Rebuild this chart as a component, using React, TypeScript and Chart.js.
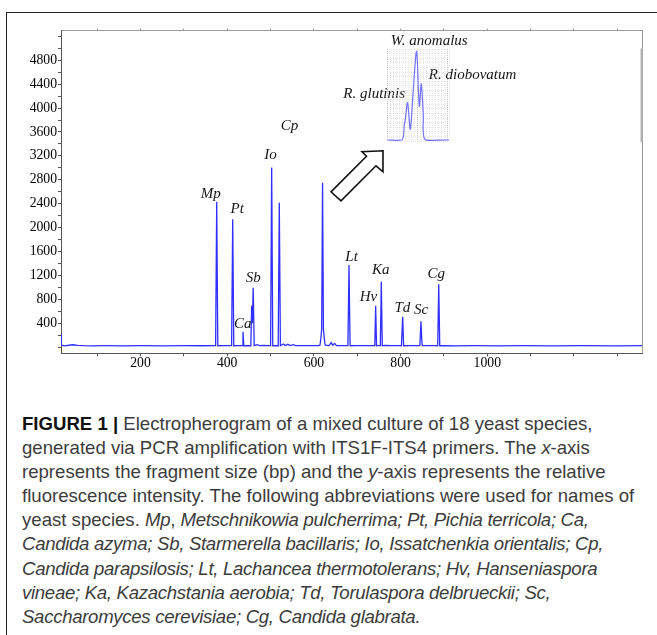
import React, { useEffect, useRef } from "react";
import { Chart, registerables } from "chart.js";

Chart.register(...registerables);

// ---- main electropherogram trace (fragment size in bp, relative fluorescence) ----
const traceBp = [
  17, 17.5, 25, 35, 45, 55, 70, 90, 120, 160, 200, 250, 300, 340, 370,
  373.3, 375.8, 378.3, 390, 405,
  410.2, 412.7, 415.2, 425,
  434.5, 436.4, 438.3, 448,
  454.5, 456.5, 458, 460, 462.3,
  470, 475, 485, 495,
  500.1, 502.6, 505.1, 512,
  517.7, 520.2, 522.7,
  530, 534, 540, 545, 552, 558, 570, 585, 600, 610,
  614, 616, 618, 620, 622, 624, 626,
  635, 640, 643, 648, 652, 665, 675,
  678.5, 681, 683.5, 695, 710, 730, 738,
  740.5, 742.5, 744.5, 748, 752,
  753.3, 755.5, 757.7, 765, 780, 795, 802,
  802.6, 804.8, 807, 820, 835, 844.5,
  847, 848.8, 850, 865, 880, 885.7,
  888, 890.3, 900, 930, 970, 1020, 1080, 1150, 1220, 1300, 1357,
];
const traceRfu = [
  220, 30, 18, 30, 38, 26, 22, 20, 22, 20, 23, 20, 22, 21, 22,
  22, 2432, 22, 24, 22,
  22, 2137, 22, 25,
  22, 256, 22, 24,
  22, 691, 400, 993, 22,
  40, 22, 26, 22,
  22, 3007, 22, 24,
  22, 2415, 22,
  50, 24, 45, 24, 40, 22, 24, 22, 25, 22,
  30, 140, 300, 2750, 300, 140, 30,
  25, 75, 30, 60, 24, 22, 22,
  22, 1372, 22, 24, 22, 24, 22,
  22, 691, 22, 25, 22,
  22, 1093, 22, 28, 22, 24, 22,
  22, 507, 22, 24, 22, 22,
  430, 130, 25, 22, 24, 22,
  1049, 22, 24, 20, 22, 20, 22, 20, 22, 20, 22,
];

// ---- axes ----
const xMin = 16.6;
const xMax = 1357.6;
const yMin = -105;
const yMax = 5295;
const xTickValues = [100, 200, 300, 400, 500, 600, 700, 800, 900, 1000, 1100, 1200, 1300];
const xTickLabels = [200, 400, 600, 800, 1000];
const yTickValues = [0, 200, 400, 600, 800, 1000, 1200, 1400, 1600, 1800, 2000, 2200, 2400, 2600, 2800, 3000, 3200, 3400, 3600, 3800, 4000, 4200, 4400, 4600, 4800, 5000, 5200];
const yTickLabels = [400, 800, 1200, 1600, 2000, 2400, 2800, 3200, 3600, 4000, 4400, 4800];

// ---- peak labels (placed in data coordinates) ----
const peakNames = ["Mp", "Pt", "Ca", "Sb", "Io", "Cp", "Lt", "Hv", "Ka", "Td", "Sc", "Cg"];
const peakNameBp = [362, 423, 436, 460, 500, 544, 687, 726, 754, 804, 847, 882];
const peakNameRfu = [2560, 2313, 386, 1162, 3218, 3704, 1500, 843, 1291, 654, 620, 1219];

// ---- inset labels ----
const insetNames = ["W. anomalus", "R. diobovatum", "R. glutinis"];
const insetNameBp = [866, 966, 739];
const insetNameRfu = [5117, 4559, 4241];

// ---- hollow arrow outline ----
const arrowBp = [639.4, 721.3, 711, 759.4, 759.4, 743.3, 662.5];
const arrowRfu = [2598, 3193, 3269, 3285, 2933, 3034, 2447];

// ---- inset (zoom of the ~620 bp peak) ----
const insetX = [0.3, 15, 17.3, 18.3, 20.6, 23.3, 26.3, 29.6, 32.3, 34.3, 36.3, 38.3, 62];
const insetY = [1.1, 1.1, 18, 23.5, 41.6, 12.7, 56, 97.4, 37.9, 62, 29, 1.3, 1.1];
const insetGridX = [0, 3, 6, 9, 12, 15, 18, 21, 24, 27, 30, 33, 36, 39, 42, 45, 48, 51, 54, 57, 60, 62];
const insetGridY = [0, 5, 10, 15, 20, 25, 30, 35, 40, 45, 50, 55, 60, 65, 70, 75, 80, 85, 90, 95, 100];
const insetMajorX = [0, 30, 60];

const serif = '"Liberation Serif", "Times New Roman", serif';

const annotate = {
  id: "annotate",
  afterDatasetsDraw(chart: any) {
    const { ctx, chartArea } = chart;
    const x = chart.scales.x;
    const y = chart.scales.y;
    ctx.save();
    // right frame line
    ctx.strokeStyle = "#9c9c9c";
    ctx.lineWidth = 1;
    ctx.beginPath();
    ctx.moveTo(Math.round(chartArea.right) + 0.5, chartArea.top);
    ctx.lineTo(Math.round(chartArea.right) + 0.5, chartArea.bottom);
    ctx.stroke();
    ctx.strokeStyle = "#b5b5b5";
    ctx.lineWidth = 2;
    ctx.beginPath();
    ctx.moveTo(Math.round(chartArea.right) - 0.5, y.getPixelForValue(5000));
    ctx.lineTo(Math.round(chartArea.right) - 0.5, y.getPixelForValue(3430));
    ctx.stroke();

    // arrow
    ctx.beginPath();
    arrowBp.forEach((b, i) => {
      const px = x.getPixelForValue(b);
      const py = y.getPixelForValue(arrowRfu[i]);
      if (i === 0) ctx.moveTo(px, py);
      else ctx.lineTo(px, py);
    });
    ctx.closePath();
    ctx.fillStyle = "#ffffff";
    ctx.fill();
    ctx.strokeStyle = "#111111";
    ctx.lineWidth = 1.6;
    ctx.lineJoin = "miter";
    ctx.stroke();

    // labels
    ctx.fillStyle = "#151515";
    ctx.font = `italic 15px ${serif}`;
    ctx.textAlign = "center";
    ctx.textBaseline = "middle";
    peakNames.forEach((n, i) => {
      ctx.fillText(n, x.getPixelForValue(peakNameBp[i]), y.getPixelForValue(peakNameRfu[i]));
    });
    insetNames.forEach((n, i) => {
      ctx.fillText(n, x.getPixelForValue(insetNameBp[i]), y.getPixelForValue(insetNameRfu[i]));
    });
    ctx.restore();
  },
};

const captionStyle: React.CSSProperties = {
  position: "absolute",
  left: 22,
  top: 412,
  fontFamily: '"Liberation Sans", Arial, sans-serif',
  fontWeight: 400,
  fontSize: 18.6,
  lineHeight: "24.1px",
  color: "#3c3c3c",
  whiteSpace: "nowrap",
  letterSpacing: "0px",
};
const it: React.CSSProperties = { fontStyle: "italic", letterSpacing: "-0.3px" };

export default function App() {
  const mainRef = useRef<HTMLCanvasElement | null>(null);
  const insetRef = useRef<HTMLCanvasElement | null>(null);

  useEffect(() => {
    if (!mainRef.current || !insetRef.current) return;
    const tickFont = { family: serif, size: 13.7, lineHeight: 1 };
    const main = new Chart(mainRef.current, {
      type: "line",
      data: {
        datasets: [
          {
            data: traceBp.map((b, i) => ({ x: b, y: traceRfu[i] })),
            borderColor: "#2f2fff",
            borderWidth: 1.3,
            pointRadius: 0,
            tension: 0,
          },
        ],
      },
      options: {
        responsive: false,
        animation: false,
        devicePixelRatio: 1,
        layout: { padding: { left: 0, right: 14.7, top: 0, bottom: 0 } },
        plugins: { legend: { display: false }, tooltip: { enabled: false } },
        scales: {
          x: {
            type: "linear",
            position: "bottom",
            min: xMin,
            max: xMax,
            afterBuildTicks: (s: any) => {
              s.ticks = xTickValues.map((v) => ({ value: v }));
            },
            afterFit: (s: any) => {
              s.height = 26.7;
            },
            grid: { drawOnChartArea: false, drawTicks: true, tickLength: 3, color: "#555" },
            border: { display: true, color: "#555", width: 1 },
            ticks: {
              autoSkip: false,
              maxRotation: 0,
              padding: 0,
              color: "#000",
              font: tickFont,
              callback: (v: any) => (xTickLabels.includes(v) ? String(v) : ""),
            },
          },
          x2: {
            type: "linear",
            position: "top",
            min: xMin,
            max: xMax,
            afterBuildTicks: (s: any) => {
              s.ticks = xTickValues.map((v) => ({ value: v }));
            },
            afterFit: (s: any) => {
              s.height = 30.7;
            },
            grid: { drawOnChartArea: false, drawTicks: true, tickLength: 2, color: "#888" },
            border: { display: true, color: "#9c9c9c", width: 1 },
            ticks: { display: false },
          },
          y: {
            type: "linear",
            min: yMin,
            max: yMax,
            afterBuildTicks: (s: any) => {
              s.ticks = yTickValues.map((v) => ({ value: v }));
            },
            afterFit: (s: any) => {
              s.width = 61;
            },
            grid: { drawOnChartArea: false, drawTicks: true, tickLength: 3, color: "#555" },
            border: { display: true, color: "#555", width: 1 },
            ticks: {
              autoSkip: false,
              padding: 1,
              color: "#000",
              font: tickFont,
              callback: (v: any) => (yTickLabels.includes(v) ? String(v) : ""),
            },
          },
        },
      },
      plugins: [annotate],
    } as any);

    const inset = new Chart(insetRef.current, {
      type: "line",
      data: {
        datasets: [
          {
            data: insetX.map((v, i) => ({ x: v, y: insetY[i] })),
            borderColor: "rgba(100,100,255,0.9)",
            borderWidth: 1.2,
            pointRadius: 0,
            tension: 0.3,
          },
        ],
      },
      options: {
        responsive: false,
        animation: false,
        devicePixelRatio: 1,
        layout: { padding: 1 },
        plugins: { legend: { display: false }, tooltip: { enabled: false } },
        scales: {
          x: {
            type: "linear",
            min: 0,
            max: 62,
            afterBuildTicks: (s: any) => {
              s.ticks = insetGridX.map((v) => ({ value: v }));
            },
            afterFit: (s: any) => {
              s.height = 0;
            },
            ticks: { display: false },
            grid: {
              drawTicks: false,
              lineWidth: 1,
              color: (c: any) => (insetMajorX.includes(c.tick?.value) ? "rgba(160,160,160,0.6)" : "rgba(205,205,205,0.45)"),
            },
            border: { display: false, dash: [1, 1] },
          },
          y: {
            type: "linear",
            min: 0,
            max: 100,
            afterBuildTicks: (s: any) => {
              s.ticks = insetGridY.map((v) => ({ value: v }));
            },
            afterFit: (s: any) => {
              s.width = 0;
            },
            ticks: { display: false },
            grid: { drawTicks: false, lineWidth: 1, color: "rgba(205,205,205,0.45)" },
            border: { display: false, dash: [1, 1] },
          },
        },
      },
    } as any);

    return () => {
      main.destroy();
      inset.destroy();
    };
  }, []);

  return (
    <div
      style={{
        position: "absolute",
        left: 0,
        top: 0,
        width: 657,
        height: 635,
        background: "#fff",
        overflow: "hidden",
      }}
    >
      <div
        style={{
          position: "absolute",
          left: 6,
          top: 12,
          width: 800,
          height: 800,
          borderLeft: "1.5px solid #222",
          borderTop: "1.5px solid #222",
        }}
      />
      <canvas
        ref={mainRef}
        width={657}
        height={380}
        style={{ position: "absolute", left: 0, top: 0, width: 657, height: 380 }}
      />
      <canvas
        ref={insetRef}
        width={64}
        height={94}
        style={{ position: "absolute", left: 386, top: 48, width: 64, height: 94 }}
      />
      <div style={captionStyle}>
        <div>
          <span style={{ fontWeight: 700, color: "#111" }}>FIGURE 1 | </span>
          Electropherogram of a mixed culture of 18 yeast species,
        </div>
        <div>
          generated via PCR amplification with ITS1F-ITS4 primers. The <span style={it}>x</span>-axis
        </div>
        <div>
          represents the fragment size (bp) and the <span style={it}>y</span>-axis represents the relative
        </div>
        <div>fluorescence intensity. The following abbreviations were used for names of</div>
        <div>
          yeast species. <span style={it}>Mp</span>, <span style={it}>Metschnikowia pulcherrima; Pt, Pichia terricola; Ca,</span>
        </div>
        <div>
          <span style={it}>Candida azyma; Sb, Starmerella bacillaris; Io, Issatchenkia orientalis; Cp,</span>
        </div>
        <div>
          <span style={it}>Candida parapsilosis; Lt, Lachancea thermotolerans; Hv, Hanseniaspora</span>
        </div>
        <div>
          <span style={it}>vineae; Ka, Kazachstania aerobia; Td, Torulaspora delbrueckii; Sc,</span>
        </div>
        <div>
          <span style={it}>Saccharomyces cerevisiae; Cg, Candida glabrata.</span>
        </div>
      </div>
    </div>
  );
}
